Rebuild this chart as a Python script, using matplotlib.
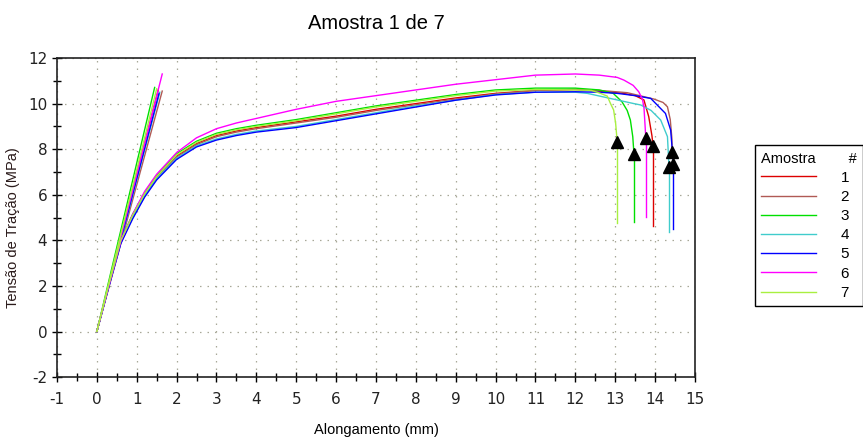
import matplotlib.pyplot as plt
from matplotlib.lines import Line2D

plt.rcParams['font.family'] = ['Liberation Sans', 'DejaVu Sans']
plt.rcParams['axes.unicode_minus'] = False

# shared strain grid for the loading part (mm)
strain = [0, 0.3, 0.6, 0.9, 1.2, 1.5, 2.0, 2.5, 3.0, 3.5, 4, 5, 6, 7, 8, 9, 10, 11, 12]

# stress on that grid for each sample (MPa)
stress_1 = [0, 2.0, 3.95, 5.1, 6.05, 6.8, 7.7, 8.25, 8.6, 8.8, 8.95, 9.2, 9.45, 9.75, 10.0, 10.25, 10.45, 10.58, 10.62]
stress_2 = [0, 2.0, 3.9, 5.05, 6.0, 6.75, 7.65, 8.2, 8.55, 8.75, 8.9, 9.15, 9.4, 9.7, 9.95, 10.2, 10.42, 10.58, 10.62]
stress_3 = [0, 2.05, 4.0, 5.15, 6.1, 6.85, 7.8, 8.35, 8.7, 8.9, 9.05, 9.3, 9.6, 9.9, 10.15, 10.4, 10.6, 10.68, 10.68]
stress_4 = [0, 2.0, 3.9, 5.0, 5.95, 6.7, 7.6, 8.15, 8.45, 8.65, 8.8, 9.0, 9.3, 9.6, 9.9, 10.15, 10.4, 10.5, 10.5]
stress_5 = [0, 1.95, 3.85, 4.95, 5.9, 6.65, 7.55, 8.1, 8.4, 8.6, 8.75, 8.95, 9.25, 9.55, 9.85, 10.15, 10.38, 10.5, 10.52]
stress_6 = [0, 2.0, 3.95, 5.15, 6.15, 6.9, 7.85, 8.5, 8.9, 9.15, 9.35, 9.75, 10.1, 10.35, 10.6, 10.85, 11.05, 11.25, 11.3]
stress_7 = [0, 2.05, 4.0, 5.1, 6.05, 6.8, 7.75, 8.3, 8.65, 8.85, 9.0, 9.25, 9.55, 9.85, 10.1, 10.35, 10.55, 10.62, 10.6]

# end of each curve up to the break point
tail_x_1 = [12.6, 13.2, 13.5, 13.72, 13.84, 13.92, 13.95]
tail_y_1 = [10.55, 10.45, 10.35, 10.16, 9.43, 8.6, 8.15]
tail_x_2 = [12.6, 13.3, 13.97, 14.2, 14.31, 14.38, 14.42, 14.43]
tail_y_2 = [10.58, 10.48, 10.2, 10.05, 9.86, 9.3, 8.5, 7.86]
tail_x_3 = [12.6, 12.95, 13.17, 13.3, 13.38, 13.44, 13.47]
tail_y_3 = [10.6, 10.45, 10.08, 9.7, 9.28, 8.55, 7.79]
tail_x_4 = [12.3, 13.05, 13.47, 13.64, 13.9, 14.14, 14.31, 14.35]
tail_y_4 = [10.45, 10.16, 10.0, 9.94, 9.7, 9.28, 8.55, 7.2]
tail_x_5 = [12.6, 13.05, 13.5, 13.89, 14.26, 14.39, 14.46]
tail_y_5 = [10.5, 10.45, 10.35, 10.23, 9.57, 8.84, 7.35]
tail_x_6 = [12.6, 13.05, 13.22, 13.45, 13.59, 13.68, 13.72, 13.76, 13.78]
tail_y_6 = [11.25, 11.15, 11.03, 10.8, 10.52, 10.2, 9.86, 8.7, 8.48]
tail_x_7 = [12.4, 12.63, 12.8, 12.88, 12.96, 13.01, 13.05]
tail_y_7 = [10.58, 10.45, 10.33, 10.01, 9.72, 9.14, 8.33]

# stress reached by the vertical drop after break (None = no drop drawn)
drop_end = [4.65, None, 4.82, 4.38, 4.49, 5.04, 4.75]

# steep initial segment tips (strain, stress)
steep_x = [1.54, 1.64, 1.45, 1.58, 1.56, 1.64, 1.50]
steep_y = [10.6, 10.55, 10.71, 10.5, 10.45, 11.3, 10.65]

labels = ['1', '2', '3', '4', '5', '6', '7']
colors = ['#dd0000', '#b05a55', '#00e000', '#40cccc', '#0000ff', '#ff00ff', '#a8f040']

stresses = [stress_1, stress_2, stress_3, stress_4, stress_5, stress_6, stress_7]
tails_x = [tail_x_1, tail_x_2, tail_x_3, tail_x_4, tail_x_5, tail_x_6, tail_x_7]
tails_y = [tail_y_1, tail_y_2, tail_y_3, tail_y_4, tail_y_5, tail_y_6, tail_y_7]

fig = plt.figure(figsize=(8.63, 4.38), dpi=100)
ax = fig.add_axes([0.066, 0.139, 0.7393, 0.7285])

for i in range(7):
    c = colors[i]
    ax.plot([0, steep_x[i]], [0, steep_y[i]], color=c, lw=1.0)
    xs = strain + tails_x[i]
    ys = stresses[i] + tails_y[i]
    ax.plot(xs, ys, color=c, lw=1.0)
    if drop_end[i] is not None:
        ax.plot([xs[-1], xs[-1]], [ys[-1], drop_end[i]], color=c, lw=1.0)

# break markers
for i in range(7):
    ax.plot(tails_x[i][-1], tails_y[i][-1], '^', color='black', markersize=9, zorder=5)

ax.set_xlim(-1, 15)
ax.set_ylim(-2, 12)
ax.set_xticks(range(-1, 16))
ax.set_xticks([x + 0.5 for x in range(-1, 15)], minor=True)
ax.set_yticks(range(-2, 13, 2))
ax.set_yticks(range(-1, 12, 2), minor=True)
ax.tick_params(which='major', direction='inout', length=7, width=1, labelsize=11,
               labelcolor='#222222', labelfontfamily='DejaVu Sans')
ax.tick_params(axis='x', which='major', pad=7)
ax.tick_params(which='minor', direction='inout', length=6, width=1)
ax.grid(True, which='major', color='#a8a898', linestyle=(0, (1.2, 4.8)), lw=0.9)
for s in ax.spines.values():
    s.set_linewidth(1.2)
    s.set_color('#222222')

ax.set_title('Amostra 1 de 7', fontsize=14.5, pad=21)
ax.set_xlabel('Alongamento (mm)', fontsize=10.5, labelpad=12)
ax.set_ylabel('Tensão de Tração (MPa)', fontsize=10.5, color='#2a1a1a')
ax.yaxis.set_label_coords(-0.058, 0.47)

handles = [Line2D([], [], color=c, lw=1.0) for c in colors]
leg = fig.legend(handles, labels, loc='upper left', bbox_to_anchor=(0.875, 0.668),
                 title='Amostra        #', title_fontsize=10.5, fontsize=11,
                 handlelength=3.6, handletextpad=1.6, labelspacing=0.34,
                 fancybox=False, edgecolor='black', framealpha=1,
                 borderaxespad=0, borderpad=0.4, alignment='left')
leg.get_frame().set_linewidth(1.0)

plt.savefig('out.png', dpi=100)
